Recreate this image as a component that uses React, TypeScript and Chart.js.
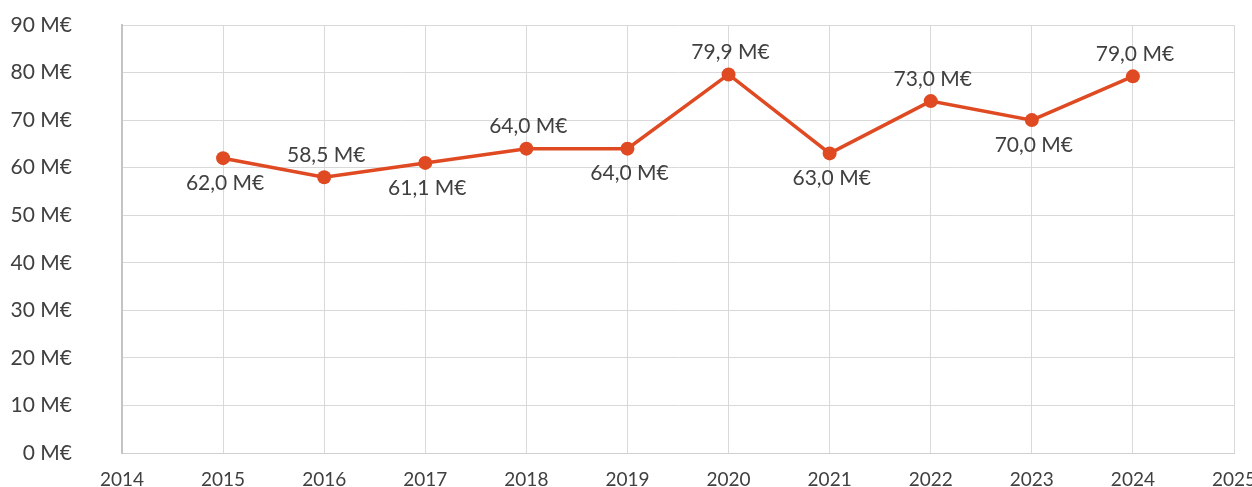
import React, { useEffect, useRef } from "react";
import { Chart, registerables } from "chart.js";

Chart.register(...registerables);

const years = [2015, 2016, 2017, 2018, 2019, 2020, 2021, 2022, 2023, 2024];
const revenue = [62.0, 58.0, 61.0, 64.0, 64.0, 79.6, 63.0, 74.0, 70.0, 79.2];
const revenueLabels = ["62,0 M€", "58,5 M€", "61,1 M€", "64,0 M€", "64,0 M€", "79,9 M€", "63,0 M€", "73,0 M€", "70,0 M€", "79,0 M€"];
const xMin = 2014;
const xMax = 2025;
const yMax = 90;
const yStep = 10;

const LINE_COLOR = "#E04A22";
const TEXT_COLOR = "#404040";
const FONT = "Lato, 'Open Sans', sans-serif";

const labelPlugin = {
  id: "valueLabels",
  afterDatasetsDraw(chart: any) {
    const ctx = chart.ctx;
    const meta = chart.getDatasetMeta(0);
    ctx.save();
    ctx.font = `21px ${FONT}`;
    ctx.fillStyle = TEXT_COLOR;
    ctx.textAlign = "center";
    ctx.textBaseline = "middle";
    meta.data.forEach((pt: any, i: number) => {
      const below = i % 2 === 0;
      const y = below ? pt.y + 25 : pt.y - 22;
      ctx.fillText(revenueLabels[i], pt.x + 2, y);
    });
    ctx.restore();
  },
};

export default function App() {
  const ref = useRef<HTMLCanvasElement | null>(null);
  useEffect(() => {
    document.body.style.margin = "0";
    const canvas = ref.current;
    if (!canvas) return;
    const chart = new Chart(canvas, {
      type: "line",
      data: {
        datasets: [
          {
            data: years.map((y, i) => ({ x: y, y: revenue[i] })),
            borderColor: LINE_COLOR,
            backgroundColor: LINE_COLOR,
            borderWidth: 3.5,
            pointRadius: 7,
            pointBackgroundColor: LINE_COLOR,
            pointBorderColor: LINE_COLOR,
            pointBorderWidth: 0,
            tension: 0,
          },
        ],
      },
      options: {
        animation: false,
        responsive: false,
        maintainAspectRatio: false,
        layout: { padding: { top: 25, right: 18, bottom: 0, left: 0 } },
        plugins: {
          legend: { display: false },
          tooltip: { enabled: false },
        },
        scales: {
          x: {
            type: "linear",
            min: xMin,
            max: xMax,
            ticks: {
              stepSize: 1,
              padding: 15,
              color: TEXT_COLOR,
              font: { family: FONT, size: 19 },
              callback: (v: any) => String(v),
            },
            grid: { color: "#d9d9d9", lineWidth: 1, drawTicks: false },
            border: { display: true, color: "#d0d0d0", width: 1 },
            afterFit: (s: any) => {
              s.height = 34;
              s.paddingLeft = 0;
              s.paddingRight = 0;
            },
          },
          y: {
            min: 0,
            max: yMax,
            ticks: {
              stepSize: yStep,
              padding: 50,
              color: TEXT_COLOR,
              font: { family: FONT, size: 21 },
              callback: (v: any) => `${v} M€`,
            },
            grid: { color: "#d9d9d9", lineWidth: 1, drawTicks: false },
            border: { display: true, color: "#c4c4c4", width: 2 },
            afterFit: (s: any) => {
              s.width = 122;
              s.paddingTop = 0;
              s.paddingBottom = 0;
            },
          },
        },
      },
      plugins: [labelPlugin],
    });
    return () => chart.destroy();
  }, []);
  return (
    <div style={{ position: "absolute", left: 0, top: 0, width: 1252, height: 487, background: "#fff" }}>
      <canvas ref={ref} width={1252} height={487} />
    </div>
  );
}
